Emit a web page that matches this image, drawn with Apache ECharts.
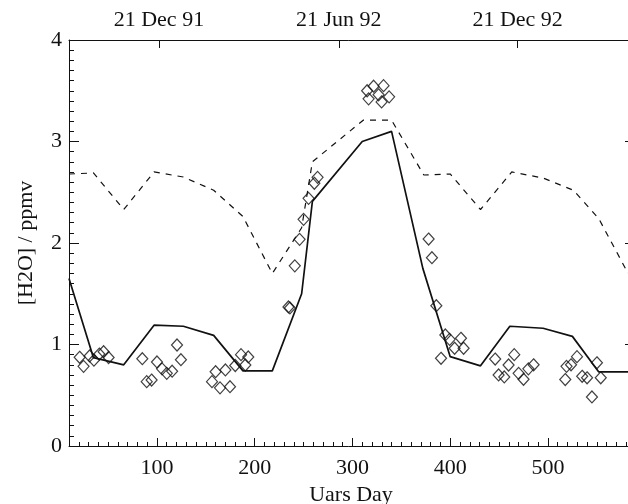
<!DOCTYPE html>
<html>
<head>
<meta charset="utf-8">
<script src="https://cdn.jsdelivr.net/npm/echarts@6/dist/echarts.min.js"></script>
<style>
  html, body { margin: 0; padding: 0; background: #fff; }
  #chart { width: 628px; height: 504px; }
</style>
</head>
<body>
<div id="chart"></div>
<script>
// model curves (Uars day, ppmv)
var modelDays = [10, 35, 66, 97, 127, 158, 188, 218, 248, 259, 310, 340, 372, 400, 431, 461, 495, 525, 552, 587];
var modelVals = [1.65, 0.87, 0.80, 1.19, 1.18, 1.09, 0.74, 0.74, 1.50, 2.41, 3.00, 3.10, 1.75, 0.88, 0.79, 1.18, 1.16, 1.08, 0.73, 0.73];

var climDays = [10, 35, 66, 97, 127, 158, 188, 218, 248, 259, 311, 340, 373, 400, 431, 463, 495, 526, 552, 582, 587];
var climVals = [2.68, 2.69, 2.33, 2.70, 2.65, 2.52, 2.26, 1.70, 2.15, 2.80, 3.21, 3.21, 2.67, 2.68, 2.33, 2.70, 2.64, 2.52, 2.24, 1.70, 1.76];

// observations (diamonds)
var obsDays = [20.9, 24.9, 31.1, 35.5, 41, 45.4, 50.5, 85, 89.5, 94.5, 100, 105.2, 110, 115.5, 120.5, 124.5,
  156.3, 160, 164.5, 170, 174.7, 180.1, 186, 190.4, 193.4,
  234.5, 236, 241, 245.9, 250, 255.1, 261, 264.3,
  315, 321.6, 331.8, 316.5, 326.7, 329.8, 337.5,
  377.9, 381.3, 385.8, 390.6, 395, 399.4, 404.5, 411, 413.7,
  446, 449.5, 455.3, 459.7, 465.5, 470, 475, 480, 485.3,
  517.7, 519, 523.6, 529.7, 535, 540, 545, 550.1, 554];
var obsVals = [0.874, 0.785, 0.887, 0.845, 0.906, 0.929, 0.872, 0.86, 0.634, 0.65, 0.828, 0.76, 0.716, 0.737, 0.995, 0.85,
  0.634, 0.732, 0.573, 0.749, 0.584, 0.793, 0.90, 0.798, 0.877,
  1.37, 1.36, 1.775, 2.036, 2.233, 2.44, 2.588, 2.647,
  3.50, 3.545, 3.55, 3.42, 3.46, 3.39, 3.44,
  2.039, 1.855, 1.382, 0.864, 1.094, 1.051, 0.963, 1.061, 0.963,
  0.857, 0.70, 0.68, 0.798, 0.90, 0.716, 0.657, 0.76, 0.80,
  0.655, 0.785, 0.80, 0.88, 0.687, 0.672, 0.483, 0.82, 0.672];

var xTicks = [100, 200, 300, 400, 500];
var topTickDays = [102, 286, 469];
var topTickLabels = ['21 Dec 91', '21 Jun 92', '21 Dec 92'];

var xMin = 10, xMax = 587;
var minorX = [];
for (var d = 20; d < xMax; d += 10) {
  if (d % 100 !== 0) minorX.push(d);
}

function pairs(xs, ys) {
  return xs.map(function (x, i) { return [x, ys[i]]; });
}

var font = '"Liberation Serif", "DejaVu Serif", serif';
var ink = '#111';
var fs = 22;

var chart = echarts.init(document.getElementById('chart'), null, { renderer: 'canvas' });

var option = {
  backgroundColor: '#fff',
  animation: false,
  grid: { left: 69, top: 40, width: 564, height: 406, containLabel: false, outerBoundsMode: 'none' },
  xAxis: [
    {
      type: 'value', position: 'bottom', min: xMin, max: xMax,
      name: 'Uars Day', nameLocation: 'middle', nameGap: 38,
      nameTextStyle: { fontFamily: font, fontSize: fs, color: ink },
      axisLine: { show: true, lineStyle: { color: ink, width: 1 } },
      axisTick: { show: true, inside: true, length: 8, customValues: xTicks, lineStyle: { color: ink } },
      axisLabel: { customValues: xTicks, margin: 11, fontFamily: font, fontSize: fs, color: ink },
      splitLine: { show: false }
    },
    {
      type: 'value', position: 'bottom', min: xMin, max: xMax,
      axisLine: { show: false },
      axisTick: { show: true, inside: true, length: 4, customValues: minorX, lineStyle: { color: ink } },
      axisLabel: { show: false },
      splitLine: { show: false }
    },
    {
      type: 'value', position: 'top', min: xMin, max: xMax,
      axisLine: { show: true, lineStyle: { color: ink, width: 1 } },
      axisTick: { show: true, inside: true, length: 8, customValues: topTickDays, lineStyle: { color: ink } },
      axisLabel: {
        customValues: topTickDays, margin: 9, fontFamily: font, fontSize: fs, color: ink,
        formatter: function (v) {
          var i = topTickDays.indexOf(v);
          return i >= 0 ? topTickLabels[i] : '';
        }
      },
      splitLine: { show: false }
    }
  ],
  yAxis: [
    {
      type: 'value', position: 'left', min: 0, max: 4, interval: 1,
      name: '[H2O] / ppmv', nameLocation: 'middle', nameGap: 32,
      nameTextStyle: { fontFamily: font, fontSize: fs, color: ink },
      axisLine: { show: true, lineStyle: { color: ink, width: 1 } },
      axisTick: { show: true, inside: true, length: 10, lineStyle: { color: ink } },
      minorTick: { show: true, splitNumber: 10, length: 5, lineStyle: { color: ink } },
      axisLabel: { margin: 7, fontFamily: font, fontSize: fs, color: ink },
      splitLine: { show: false },
      minorSplitLine: { show: false }
    },
    {
      type: 'value', position: 'right', min: 0, max: 4, interval: 1,
      axisLine: { show: true, lineStyle: { color: ink, width: 1 } },
      axisTick: { show: true, inside: true, length: 8, lineStyle: { color: ink } },
      axisLabel: { show: false },
      splitLine: { show: false }
    }
  ],
  series: [
    {
      name: 'model', type: 'line', xAxisIndex: 0, yAxisIndex: 0,
      data: pairs(modelDays, modelVals),
      showSymbol: false, symbol: 'none',
      lineStyle: { color: ink, width: 1.7 }
    },
    {
      name: 'clim', type: 'line', xAxisIndex: 0, yAxisIndex: 0,
      data: pairs(climDays, climVals),
      showSymbol: false, symbol: 'none',
      lineStyle: { color: ink, width: 1.2, type: [6, 6] }
    },
    {
      name: 'obs', type: 'scatter', xAxisIndex: 0, yAxisIndex: 0,
      data: pairs(obsDays, obsVals),
      symbol: 'diamond', symbolSize: [11, 12],
      itemStyle: { color: 'rgba(0,0,0,0)', borderColor: ink, borderWidth: 1.2 }
    }
  ]
};

chart.setOption(option);
</script>
</body>
</html>
